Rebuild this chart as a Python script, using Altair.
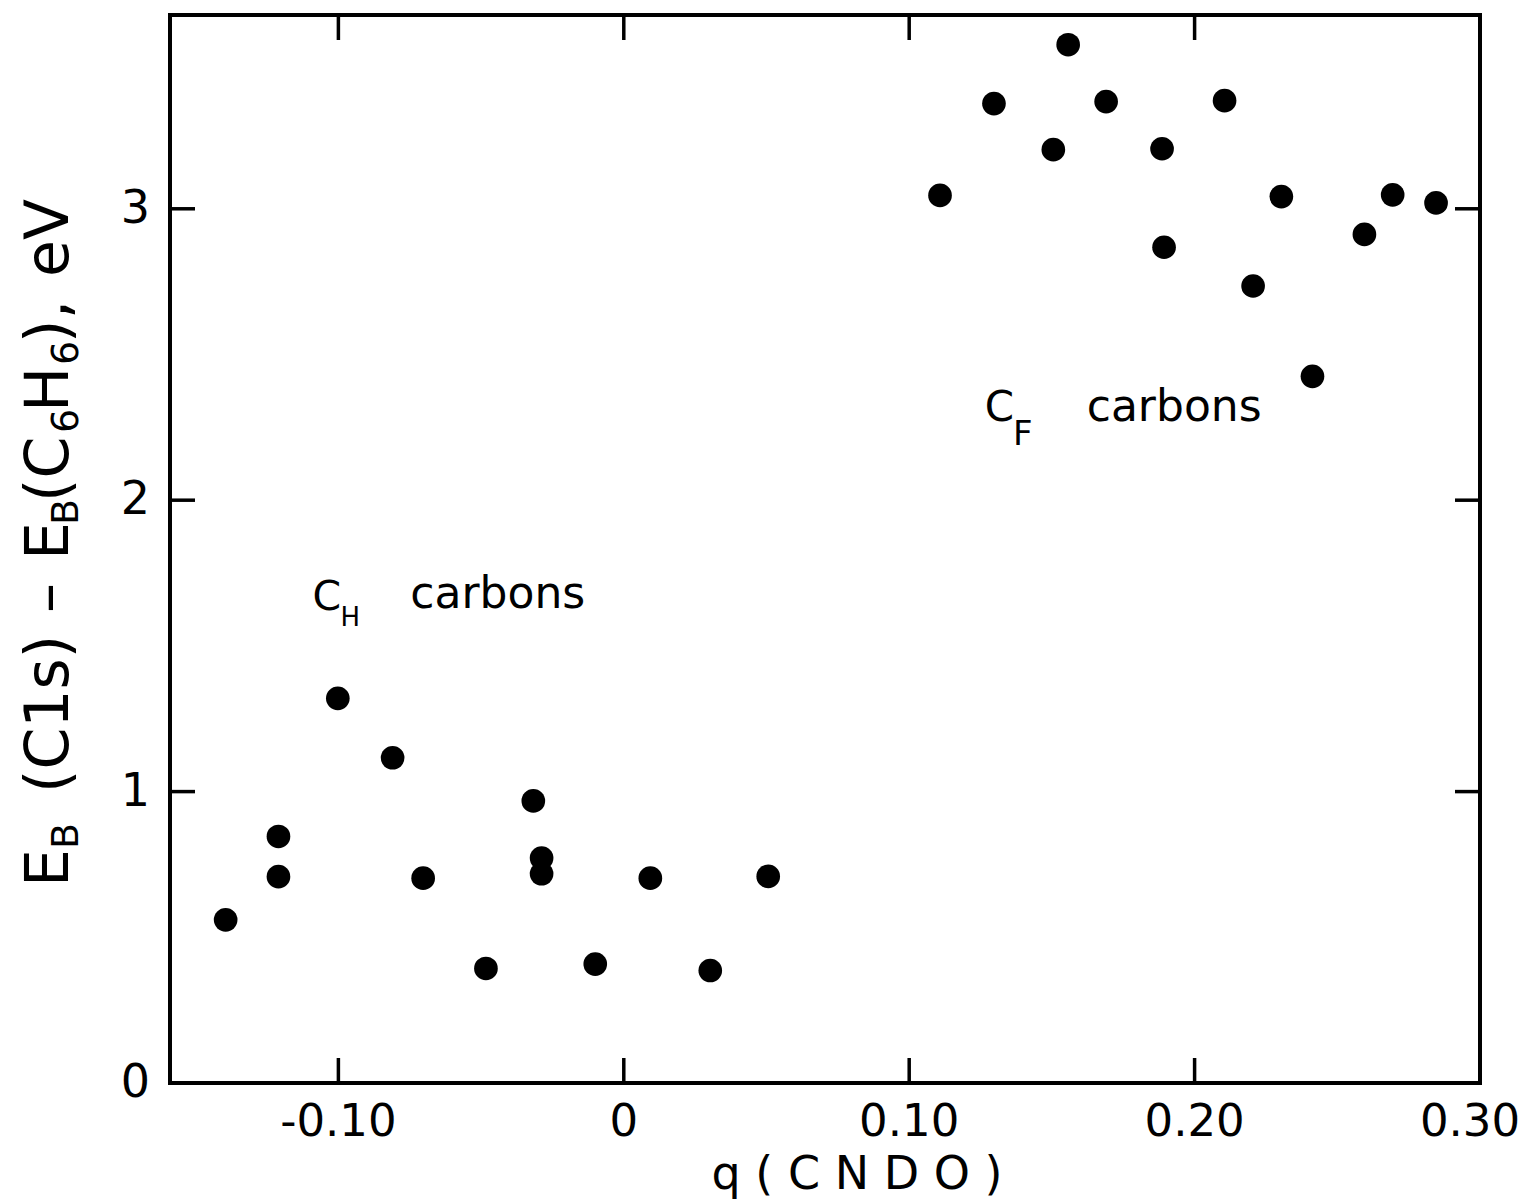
import altair as alt
import pandas as pd

# ---------------- data ----------------
ch_q = [-0.1395, -0.121, -0.121, -0.1002, -0.081, -0.0703, -0.0483,
        -0.0317, -0.0288, -0.0288, -0.0100, 0.0093, 0.0303, 0.0506]
ch_eb = [0.56, 0.846, 0.708, 1.32, 1.116, 0.703, 0.393,
         0.968, 0.772, 0.718, 0.408, 0.703, 0.386, 0.709]

cf_q = [0.1108, 0.1297, 0.1557, 0.1505, 0.169, 0.1886, 0.1893,
        0.2105, 0.2205, 0.2304, 0.2413, 0.2595, 0.2694, 0.2846]
cf_eb = [3.046, 3.361, 3.563, 3.203, 3.368, 3.206, 2.868,
         3.371, 2.735, 3.042, 2.425, 2.912, 3.048, 3.020]

x_tick_values = [-0.10, 0.0, 0.10, 0.20, 0.30]
x_tick_labels = ["-0.10", "0", "0.10", "0.20", "0.30"]
x_inner_ticks = [-0.10, 0.0, 0.10, 0.20]
y_tick_values = [0, 1, 2, 3]
y_tick_labels = ["0", "1", "2", "3"]
y_inner_ticks = [1, 2, 3]
x_title = "q ( C N D O )"

# ---------------- layout ----------------
W, H = 1310, 1068
TICK = 25
FONT = "DejaVu Sans"

xscale = alt.Scale(domain=[-0.159, 0.30], nice=False, zero=False)
yscale = alt.Scale(domain=[0, 3.665], nice=False, zero=False)

pts = pd.DataFrame({"q": ch_q + cf_q, "eb": ch_eb + cf_eb})

points = alt.Chart(pts).mark_circle(size=560, color="black", opacity=1).encode(
    x=alt.X("q:Q", scale=xscale, axis=None),
    y=alt.Y("eb:Q", scale=yscale, axis=None),
)

xt = pd.DataFrame({"q": x_inner_ticks})
yt = pd.DataFrame({"eb": y_inner_ticks})
rule_style = dict(color="black", strokeWidth=3.5)

tick_bottom = alt.Chart(xt).mark_rule(**rule_style).encode(
    x=alt.X("q:Q", scale=xscale, axis=None), y=alt.value(H), y2=alt.value(H - TICK))
tick_top = alt.Chart(xt).mark_rule(**rule_style).encode(
    x=alt.X("q:Q", scale=xscale, axis=None), y=alt.value(0), y2=alt.value(TICK))
tick_left = alt.Chart(yt).mark_rule(**rule_style).encode(
    y=alt.Y("eb:Q", scale=yscale, axis=None), x=alt.value(0), x2=alt.value(TICK))
tick_right = alt.Chart(yt).mark_rule(**rule_style).encode(
    y=alt.Y("eb:Q", scale=yscale, axis=None), x=alt.value(W), x2=alt.value(W - TICK))

# tick labels (placed through the scales)
xl = pd.DataFrame({"q": x_tick_values, "lab": x_tick_labels})
yl = pd.DataFrame({"eb": y_tick_values, "lab": y_tick_labels})
x_label_style = dict(align="center", baseline="top", font=FONT, fontSize=45, color="black")
x_labels = alt.Chart(xl).transform_filter("datum.q < 0.25").mark_text(**x_label_style).encode(
    x=alt.X("q:Q", scale=xscale, axis=None), y=alt.value(H + 17), text="lab:N")
x_label_end = alt.Chart(xl).transform_filter("datum.q > 0.25").mark_text(
    dx=-10, **x_label_style).encode(
    x=alt.X("q:Q", scale=xscale, axis=None), y=alt.value(H + 17), text="lab:N")
y_labels = alt.Chart(yl).mark_text(
    align="right", baseline="middle", font=FONT, fontSize=46, color="black").encode(
    y=alt.Y("eb:Q", scale=yscale, axis=None), x=alt.value(-20), text="lab:N")

xtitle_df = pd.DataFrame({"t": [x_title]})
x_title_mark = alt.Chart(xtitle_df).mark_text(
    align="center", baseline="alphabetic", font=FONT, fontSize=46, color="black").encode(
    text="t:N", x=alt.value(857 - 170), y=alt.value(1189 - 15))

# ---------------- annotations in data coordinates ----------------
ann = pd.DataFrame({
    "q":  [-0.1091, -0.0993, -0.0748, 0.1265, 0.1364, 0.1622],
    "eb": [1.622, 1.567, 1.629, 2.271, 2.189, 2.271],
    "label": ["C", "H", "carbons", "C", "F", "carbons"],
    "fs": [41, 26, 44, 42, 34, 44],
})
annotations = alt.Chart(ann).mark_text(
    align="left", baseline="alphabetic", font=FONT, color="black").encode(
    x=alt.X("q:Q", scale=xscale, axis=None),
    y=alt.Y("eb:Q", scale=yscale, axis=None),
    text="label:N",
    size=alt.Size("fs:Q", scale=None, legend=None),
)

# ---------------- y-axis title built from pieces (for subscripts) ----------------
title_main = pd.DataFrame({
    "t": ["E", "(C1s)", "\u2013", "E", "(C", "H", ")", ",", "eV"],
    "py": [872, 778, 598, 545, 487, 397, 328, 304, 262],
})
title_sub = pd.DataFrame({
    "t": ["B", "B", "6", "6"],
    "py": [834, 510, 418, 350],
})
ytitle_main = alt.Chart(title_main).mark_text(
    angle=270, align="left", baseline="alphabetic", font=FONT, fontSize=60, color="black"
).encode(text="t:N", y=alt.Y("py:Q", scale=None, axis=None), x=alt.value(68 - 170))
ytitle_sub = alt.Chart(title_sub).mark_text(
    angle=270, align="left", baseline="alphabetic", font=FONT, fontSize=38, color="black"
).encode(text="t:N", y=alt.Y("py:Q", scale=None, axis=None), x=alt.value(78 - 170))

chart = alt.layer(
    points, tick_bottom, tick_top, tick_left, tick_right,
    x_labels, x_label_end, y_labels, x_title_mark, annotations, ytitle_main, ytitle_sub
).properties(
    width=W, height=H,
    autosize=alt.AutoSizeParams(type="none"),
    padding={"left": 170, "top": 15, "right": 50, "bottom": 117},
    background="white",
).configure_view(
    stroke="black", strokeWidth=4
)

chart.save("out.html", embed_options={"renderer": "svg", "actions": False})
